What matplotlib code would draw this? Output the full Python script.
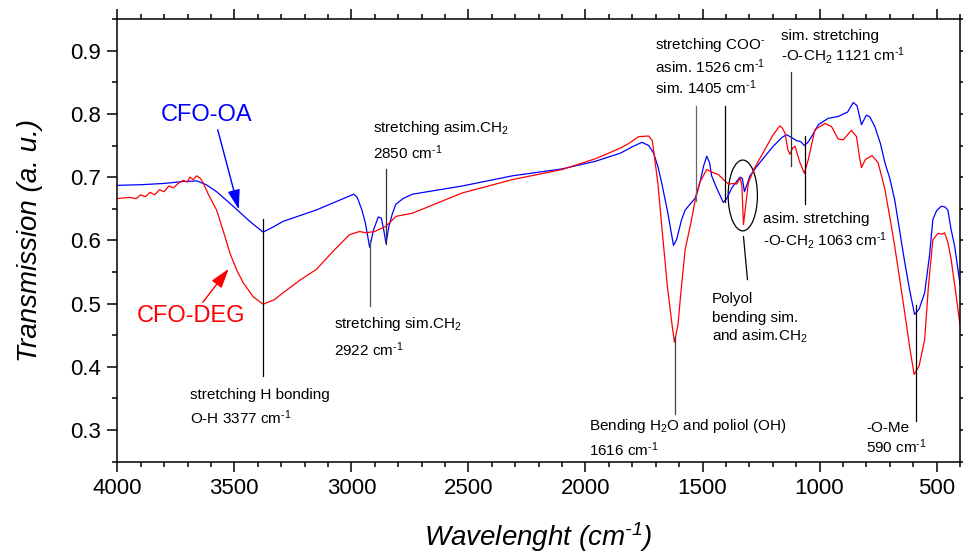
import matplotlib
matplotlib.use("Agg")
import matplotlib.pyplot as plt
from matplotlib.patches import Ellipse
from matplotlib.ticker import MultipleLocator

plt.rcParams['font.family'] = ['Liberation Sans', 'DejaVu Sans']
plt.rcParams['mathtext.default'] = 'regular'

HY = "\u2010"  # hyphen used in superscripts

# ---------------- data ----------------
oa_wn = [4000, 3900, 3800, 3720, 3660, 3620, 3576, 3505, 3434, 3377, 3330, 3292, 3150,
         3022, 2990, 2975, 2955, 2940, 2922, 2905, 2885, 2872, 2862, 2852, 2840, 2825,
         2810, 2780, 2739, 2526, 2313, 2100, 1958, 1850, 1800, 1759, 1730, 1709, 1690,
         1674, 1650, 1624, 1610, 1590, 1574, 1531, 1510, 1495, 1482, 1470, 1461, 1440,
         1411, 1395, 1375, 1340, 1330, 1321, 1310, 1297, 1270, 1233, 1200, 1160, 1141,
         1121, 1100, 1080, 1065, 1050, 1034, 1005, 963, 920, 880, 856, 840, 821, 800,
         785, 764, 740, 721, 700, 679, 650, 636, 615, 594, 575, 551, 530, 516, 500, 480,
         465, 452, 438, 423, 400]
oa_t = [0.687, 0.688, 0.690, 0.693, 0.694, 0.688, 0.677, 0.654, 0.630, 0.613, 0.622, 0.630, 0.648,
        0.668, 0.673, 0.668, 0.648, 0.627, 0.589, 0.617, 0.637, 0.635, 0.617, 0.595, 0.622, 0.642,
        0.657, 0.666, 0.673, 0.686, 0.702, 0.713, 0.725, 0.738, 0.748, 0.755, 0.750, 0.738, 0.716,
        0.690, 0.647, 0.592, 0.602, 0.632, 0.648, 0.667, 0.693, 0.718, 0.733, 0.723, 0.702, 0.683,
        0.660, 0.667, 0.683, 0.700, 0.698, 0.677, 0.688, 0.702, 0.716, 0.733, 0.748, 0.763, 0.767,
        0.763, 0.758, 0.756, 0.750, 0.755, 0.764, 0.783, 0.793, 0.796, 0.803, 0.818, 0.813, 0.783, 0.798,
        0.795, 0.780, 0.753, 0.723, 0.698, 0.664, 0.597, 0.565, 0.521, 0.483, 0.491, 0.517, 0.577, 0.633, 0.647, 0.654,
        0.653, 0.648, 0.617, 0.591, 0.531]

deg_wn = [4000, 3950, 3920, 3900, 3880, 3860, 3840, 3820, 3800, 3780, 3760, 3740, 3718, 3700,
          3690, 3675, 3661, 3645, 3633, 3610, 3576, 3545, 3519, 3490, 3462, 3420, 3377, 3330,
          3292, 3220, 3150, 3080, 3008, 2965, 2938, 2900, 2866, 2853, 2809, 2739, 2526, 2313,
          2100, 1958, 1850, 1816, 1773, 1730, 1715, 1709, 1690, 1674, 1650, 1630, 1620, 1605,
          1590, 1574, 1550, 1531, 1510, 1482, 1460, 1432, 1410, 1389, 1365, 1354, 1340, 1332,
          1325, 1315, 1304, 1280, 1233, 1200, 1170, 1160, 1148, 1135, 1127, 1115, 1105, 1084,
          1065, 1048, 1020, 977, 949, 920, 899, 864, 842, 830, 821, 804, 776, 750, 721, 700,
          679, 657, 636, 615, 596, 575, 551, 535, 516, 494, 475, 466, 452, 438, 420, 400]
deg_t = [0.666, 0.668, 0.666, 0.672, 0.669, 0.676, 0.672, 0.680, 0.677, 0.686, 0.683, 0.690, 0.695, 0.692,
         0.700, 0.696, 0.702, 0.698, 0.691, 0.672, 0.648, 0.612, 0.580, 0.553, 0.533, 0.511, 0.499, 0.506,
         0.517, 0.537, 0.554, 0.582, 0.609, 0.614, 0.612, 0.614, 0.620, 0.622, 0.638, 0.643, 0.675, 0.696,
         0.712, 0.729, 0.746, 0.753, 0.764, 0.765, 0.758, 0.743, 0.688, 0.622, 0.527, 0.466, 0.439, 0.466,
         0.527, 0.586, 0.627, 0.664, 0.693, 0.712, 0.708, 0.704, 0.696, 0.689, 0.690, 0.689, 0.699, 0.688,
         0.625, 0.657, 0.691, 0.713, 0.744, 0.766, 0.781, 0.778, 0.770, 0.743, 0.736, 0.746, 0.749, 0.723,
         0.706, 0.728, 0.775, 0.785, 0.780, 0.760, 0.759, 0.774, 0.764, 0.733, 0.715, 0.728, 0.734, 0.723, 0.681, 0.637,
         0.591, 0.537, 0.485, 0.431, 0.388, 0.401, 0.443, 0.527, 0.601, 0.611, 0.610, 0.612, 0.597, 0.570, 0.522, 0.466]

series_names = ["CFO-OA", "CFO-DEG"]
series_colors = ["#0000ff", "#ff0000"]

# annotation marker lines: (x0, y0, x1, y1, colour)
marker_lines = [
    (3377, 0.385, 3377, 0.633, "black"),
    (2922, 0.496, 2922, 0.601, "#555555"),
    (2850, 0.595, 2850, 0.713, "#333333"),
    (1616, 0.325, 1616, 0.449, "#444444"),
    (590, 0.314, 590, 0.497, "black"),
    (1526, 0.662, 1526, 0.813, "#666666"),
    (1405, 0.660, 1405, 0.813, "black"),
    (1121, 0.717, 1121, 0.867, "#333333"),
    (1063, 0.657, 1063, 0.765, "black"),
    (1325, 0.606, 1308, 0.538, "black"),
]

CM = "cm$^{" + HY + "1}$"
# annotation texts: (x, y, text)
notes = [
    (3691, 0.356, "stretching H bonding"),
    (3691, 0.320, "O-H 3377 " + CM),
    (3073, 0.467, "stretching sim.CH$_2$"),
    (3073, 0.4275, "2922 " + CM),
    (2907, 0.778, "stretching asim.CH$_2$"),
    (2907, 0.738, "2850 " + CM),
    (1986, 0.306, "Bending H$_2$O and poliol (OH)"),
    (1986, 0.2695, "1616 " + CM),
    (801, 0.304, "-O-Me"),
    (801, 0.273, "590 " + CM),
    (1702, 0.9095, "stretching COO$^{" + HY + "}$"),
    (1702, 0.875, "asim. 1526 " + CM),
    (1702, 0.841, "sim. 1405 " + CM),
    (1166, 0.9226, "sim. stretching"),
    (1166, 0.892, "-O-CH$_2$ 1121 " + CM),
    (1243, 0.633, "asim. stretching"),
    (1243, 0.600, "-O-CH$_2$ 1063 " + CM),
    (1460, 0.508, "Polyol"),
    (1460, 0.478, "bending sim."),
    (1460, 0.4485, "and asim.CH$_2$"),
]

# ---------------- figure ----------------
fig = plt.figure(figsize=(9.63, 5.53), dpi=100)
ax = fig.add_axes([0.1218, 0.1651, 0.8751, 0.8005])

ax.plot(oa_wn, oa_t, color=series_colors[0], lw=0.9)
ax.plot(deg_wn, deg_t, color=series_colors[1], lw=0.9)

for x0, y0, x1, y1, c in marker_lines:
    ax.plot([x0, x1], [y0, y1], color=c, lw=0.9)

for x, y, t in notes:
    ax.text(x, y, t, fontsize=11, ha='left', va='center', color='black')

ax.add_patch(Ellipse((1328, 0.671), 125, 0.112, fill=False, edgecolor='black', lw=0.9))

# series labels with arrows
ax.text(3815, 0.799, series_names[0], color=series_colors[0], fontsize=17, ha='left', va='center')
ax.text(3917, 0.480, series_names[1], color=series_colors[1], fontsize=17, ha='left', va='center')
ax.annotate('', xy=(3481, 0.649), xytext=(3571, 0.775),
            arrowprops=dict(arrowstyle='-|>,head_length=0.8,head_width=0.25',
                            color=series_colors[0], lw=1, mutation_scale=15, shrinkA=0, shrinkB=0))
ax.annotate('', xy=(3524, 0.555), xytext=(3635, 0.502),
            arrowprops=dict(arrowstyle='-|>,head_length=0.8,head_width=0.25',
                            color=series_colors[1], lw=1, mutation_scale=15, shrinkA=0, shrinkB=0))

ax.set_xlim(4000, 400)
ax.set_ylim(0.25, 0.95)
ax.xaxis.set_major_locator(MultipleLocator(500))
ax.xaxis.set_minor_locator(MultipleLocator(100))
ax.yaxis.set_minor_locator(MultipleLocator(0.05))
ax.set_yticks([0.3, 0.4, 0.5, 0.6, 0.7, 0.8, 0.9])

ax.tick_params(which='both', direction='out', top=True, right=True,
               labeltop=False, labelright=False, width=1.1, labelsize=16)
ax.tick_params(which='major', length=7, pad=5)
ax.tick_params(which='minor', length=3.6)
for s in ax.spines.values():
    s.set_linewidth(1.1)

ax.set_xlabel('Wavelenght (cm$^{' + HY + '1}$)', fontsize=20, style='italic', va='center')
ax.set_ylabel('Transmission (a. u.)', fontsize=20, style='italic', va='center')
ax.xaxis.set_label_coords(0.5, -0.170)
ax.yaxis.set_label_coords(-0.1036, 0.5)

fig.savefig('out.png', dpi=100)
